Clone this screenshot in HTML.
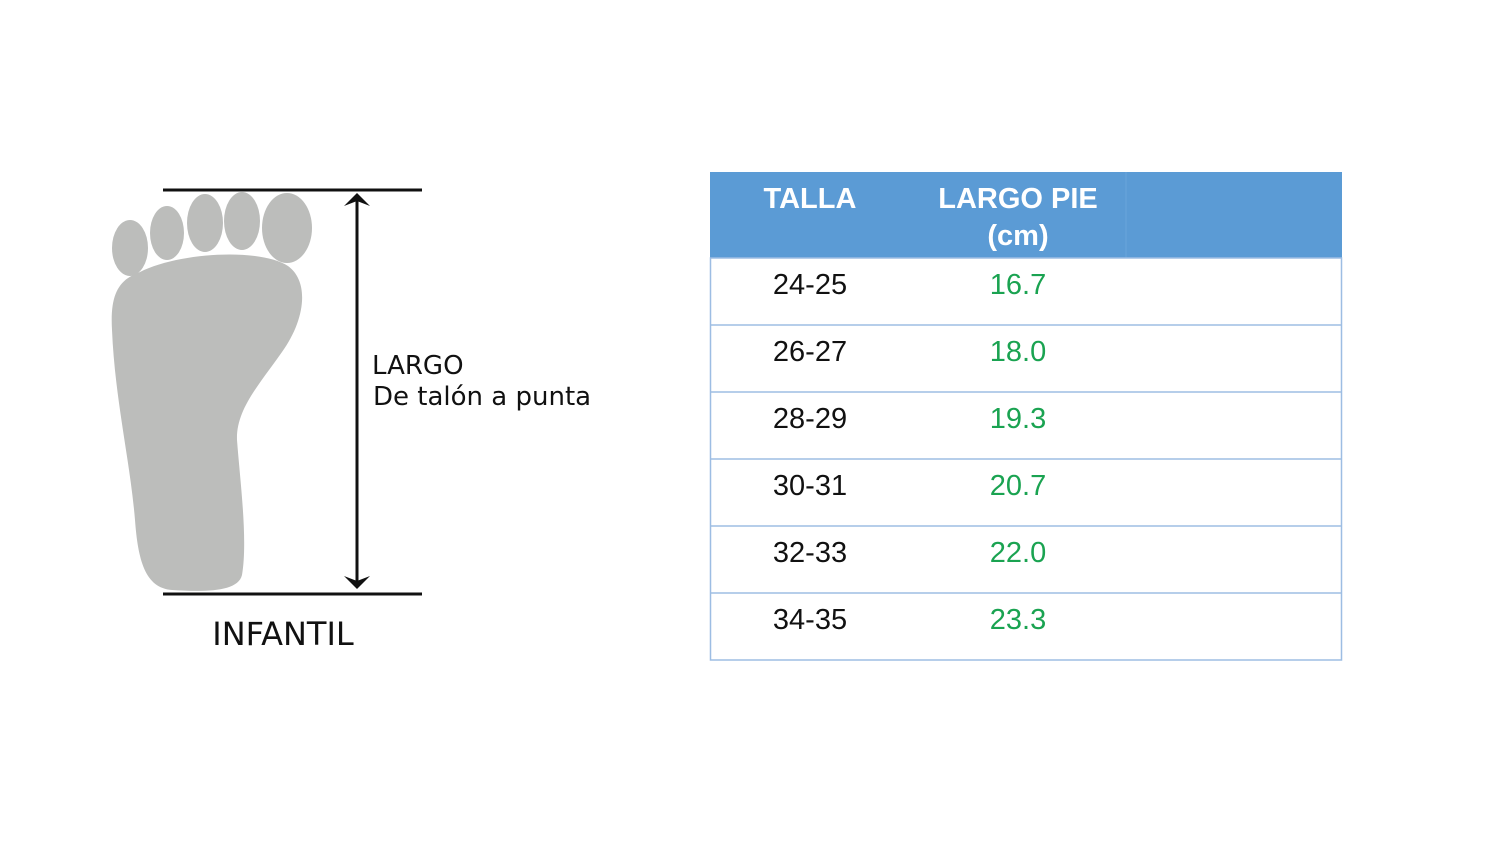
<!DOCTYPE html>
<html><head><meta charset="utf-8"><style>
html,body{margin:0;padding:0;background:#fff;}
svg{display:block;}
</style></head><body>
<svg width="1500" height="844" viewBox="0 0 1500 844" xmlns="http://www.w3.org/2000/svg">
<rect width="1500" height="844" fill="#fff"/>
<g fill="#bcbdbb">
<ellipse cx="130" cy="248" rx="18" ry="28"/>
<ellipse cx="167" cy="233" rx="17" ry="27"/>
<ellipse cx="205" cy="223" rx="18" ry="29"/>
<ellipse cx="242" cy="221" rx="18" ry="29"/>
<ellipse cx="287" cy="228" rx="25" ry="35"/>
<path d="M140,272 C180,252 260,248 288,266 C310,282 305,320 282,352 C258,386 236,410 237,440 C240,480 248,540 242,575 C238,592 205,592 172,590 C145,588 138,560 135,520 C130,460 115,400 112,330 C110,295 118,280 140,272 Z"/>
</g>
<g stroke="#111" stroke-width="3">
<line x1="163" y1="190" x2="422" y2="190"/>
<line x1="163" y1="594" x2="422" y2="594"/>
<line x1="357" y1="196" x2="357" y2="586"/>
</g>
<path d="M344,206 L357,193 L370,206 L357,201 Z" fill="#111"/>
<path d="M344,576 L357,589 L370,576 L357,581 Z" fill="#111"/>
<g font-family="'DejaVu Sans','Liberation Sans',sans-serif" fill="#111">
<text x="372" y="374" font-size="26">LARGO</text>
<text x="373" y="405" font-size="26">De talón a punta</text>
<text x="283" y="645" font-size="32" text-anchor="middle">INFANTIL</text>
</g>
<rect x="710" y="172" width="632" height="86" fill="#5b9bd5"/>
<line x1="1126" y1="172" x2="1126" y2="258" stroke="#6aa6dc" stroke-width="1"/>
<g font-family="'Liberation Sans',Arial,sans-serif" font-weight="bold" font-size="29" fill="#fff" text-anchor="middle">
<text x="810" y="208">TALLA</text>
<text x="1018" y="208">LARGO PIE</text>
<text x="1018" y="245">(cm)</text>
</g>
<g fill="none" stroke="#9dbde3" stroke-width="1.5">
<rect x="710.5" y="258" width="631" height="402"/>
<line x1="710" y1="325" x2="1342" y2="325"/>
<line x1="710" y1="392" x2="1342" y2="392"/>
<line x1="710" y1="459" x2="1342" y2="459"/>
<line x1="710" y1="526" x2="1342" y2="526"/>
<line x1="710" y1="593" x2="1342" y2="593"/>
</g>
<g font-family="'Liberation Sans',Arial,sans-serif" font-size="29" text-anchor="middle">
<g fill="#111">
<text x="810" y="294">24-25</text>
<text x="810" y="361">26-27</text>
<text x="810" y="428">28-29</text>
<text x="810" y="495">30-31</text>
<text x="810" y="562">32-33</text>
<text x="810" y="629">34-35</text>
</g>
<g fill="#1aa351">
<text x="1018" y="294">16.7</text>
<text x="1018" y="361">18.0</text>
<text x="1018" y="428">19.3</text>
<text x="1018" y="495">20.7</text>
<text x="1018" y="562">22.0</text>
<text x="1018" y="629">23.3</text>
</g>
</g>
</svg>
</body></html>
